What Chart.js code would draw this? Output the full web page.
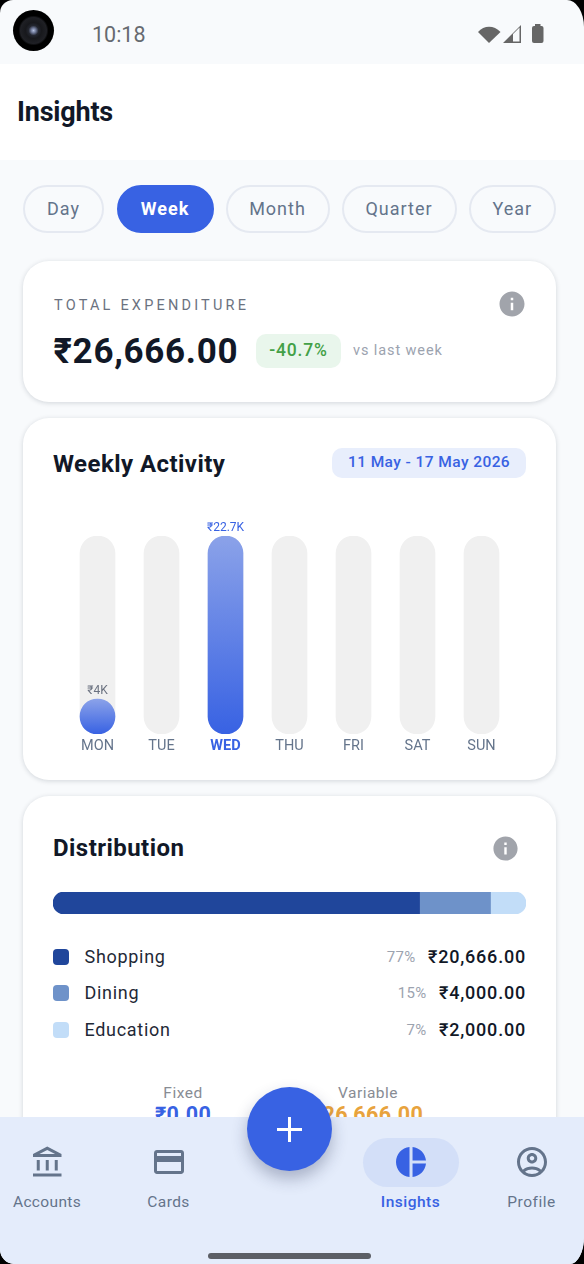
<!DOCTYPE html>
<html><head><meta charset="utf-8">
<script src="https://cdn.jsdelivr.net/npm/chart.js@4"></script>
<style>
html,body{margin:0;padding:0;background:#000;width:584px;height:1264px;overflow:hidden}
#p{position:relative;width:584px;height:1264px;background:#F8FAFC;border-radius:13px 17px 14px 14px / 13px 27px 27px 15px;overflow:hidden;font-family:Roboto,sans-serif;color:#111827}
.a{position:absolute;white-space:nowrap;line-height:1}
.cy{transform:translateY(-50%)}
.cc{transform:translate(-50%,-50%)}
.ry{transform:translateY(-50%)}
.card{position:absolute;left:23px;width:533px;background:#fff;border-radius:26px;box-shadow:0 1px 5px rgba(15,23,42,.16);}
.pill{position:absolute;top:184.5px;height:48px;box-sizing:border-box;border:2px solid #E5E9F1;border-radius:24px;display:flex;align-items:center;justify-content:center;font-size:18px;letter-spacing:1px;color:#64748B}
.pill.on{background:#3862E3;border-color:#3862E3;color:#fff;font-weight:700}
svg{position:absolute;display:block}
canvas{position:absolute}
</style></head><body>
<div id="p">
<div class="a" style="left:0;top:64px;width:584px;height:96px;background:#fff"></div>
<div class="a" style="left:12.5px;top:9.5px;width:41px;height:41px;border-radius:50%;background:radial-gradient(circle at 50% 50%,#b4c0de 0,#6b7594 2.5px,#23262f 5px,#17181c 8px,#1f2025 13px,#000 15px)"></div>
<div class="a cy" style="left:92px;top:35px;font-size:21.5px;color:#666A70">10:18</div>
<svg style="left:476px;top:21px" width="74" height="26" viewBox="0 0 74 26"><path d="M2 11C8 4 18 4 24.5 11L13 22z" fill="#666"/><path d="M27 22 45 4V22zM37 20.5H43.5V6.5L37 13z" fill="#666" fill-rule="evenodd"/><rect x="56" y="5" width="11.5" height="17" rx="2" fill="#666"/><rect x="59" y="3" width="5.5" height="3" fill="#666"/></svg>
<div class="a cy" style="left:17px;top:112px;font-size:27px;font-weight:700;color:#111827;letter-spacing:-.2px">Insights</div>

<div id="pills"></div>

<div class="card" style="top:261px;height:141px"></div>
<div class="a cy" style="left:54px;top:306px;font-size:14.5px;letter-spacing:3.2px;color:#6B7280">TOTAL EXPENDITURE</div>
<svg style="left:497px;top:289px" width="30" height="30" viewBox="0 0 24 24"><path fill="#A1A4AB" d="M12 2C6.48 2 2 6.48 2 12s4.48 10 10 10 10-4.48 10-10S17.52 2 12 2zm1 15h-2v-6h2v6zm0-8h-2V7h2v2z"/></svg>
<div class="a cy" style="left:53.5px;top:351px;font-size:35px;font-weight:700;letter-spacing:.7px;color:#111827">₹26,666.00</div>
<div class="a" style="left:256px;top:334px;width:85px;height:34px;border-radius:10px;background:#E9F6EC;display:flex;align-items:center;justify-content:center;font-size:17.5px;font-weight:500;letter-spacing:.8px;color:#43A047">-40.7%</div>
<div class="a cy" style="left:353px;top:351px;font-size:14.5px;letter-spacing:.9px;color:#9CA3AF">vs last week</div>

<div class="card" style="top:418px;height:362px"></div>
<div class="a cy" style="left:53px;top:464px;font-size:24px;font-weight:700;letter-spacing:.45px">Weekly Activity</div>
<div class="a" style="left:332px;top:448px;width:194px;height:30px;border-radius:10px;background:#E8EEFC;display:flex;align-items:center;justify-content:center;font-size:15.5px;font-weight:500;letter-spacing:.42px;color:#3862E3">11 May - 17 May 2026</div>
<canvas id="week" style="left:23px;top:510px" width="533" height="260"></canvas>

<div class="card" style="top:796px;height:500px"></div>
<div class="a cy" style="left:53px;top:848px;font-size:24px;font-weight:700;letter-spacing:.45px">Distribution</div>
<svg style="left:491px;top:833.5px" width="29" height="29" viewBox="0 0 24 24"><path fill="#A1A4AB" d="M12 2C6.48 2 2 6.48 2 12s4.48 10 10 10 10-4.48 10-10S17.52 2 12 2zm1 15h-2v-6h2v6zm0-8h-2V7h2v2z"/></svg>
<canvas id="dist" style="left:53px;top:892px" width="473" height="22"></canvas>
<div id="legend"></div>

<div class="a cc" style="left:183px;top:1094px;font-size:15.5px;letter-spacing:.5px;color:#888C94">Fixed</div>
<div class="a cc" style="left:183px;top:1115px;font-size:21.5px;font-weight:700;letter-spacing:.3px;color:#3862E3">₹0.00</div>
<div class="a cc" style="left:368px;top:1094px;font-size:15.5px;letter-spacing:.5px;color:#888C94">Variable</div>
<div class="a cc" style="left:367px;top:1115px;font-size:21.5px;font-weight:700;letter-spacing:.3px;color:#E8A33D">₹26,666.00</div>

<div class="a" style="left:0;top:1117px;width:584px;height:147px;background:#E4ECFB"></div>
<div class="a" style="left:363px;top:1138px;width:96px;height:49px;border-radius:25px;background:#D3DFF8"></div>
<svg style="left:29.5px;top:1144.5px" width="36" height="36" viewBox="0 0 24 24"><path fill="#64748B" d="M6.5 10h-2v7h2v-7zm6 0h-2v7h2v-7zm8.5 9H2v2h19v-2zm-2.5-9h-2v7h2v-7zm-7-6.74L16.71 6H6.29l5.21-2.74m0-2.26L2 6v2h19V6l-9.5-5z"/></svg>
<svg style="left:151px;top:1144px" width="36" height="36" viewBox="0 0 24 24"><path fill="#64748B" d="M20 4H4c-1.11 0-1.99.89-1.99 2L2 18c0 1.11.89 2 2 2h16c1.11 0 2-.89 2-2V6c0-1.11-.89-2-2-2zm0 14H4v-6h16v6zm0-10H4V6h16v2z"/></svg>
<svg style="left:393px;top:1144px" width="36" height="36" viewBox="0 0 24 24"><path fill="#3862E3" d="M11 2v20c-5.07-.5-9-4.79-9-10s3.93-9.5 9-10zm2.03 0v8.99H22c-.47-4.74-4.24-8.52-8.97-8.99zm0 11.01V22c4.74-.47 8.5-4.25 8.97-8.99h-8.97z"/></svg>
<svg style="left:513.7px;top:1144px" width="36" height="36" viewBox="0 0 24 24"><path fill="#64748B" d="M12 2C6.48 2 2 6.48 2 12s4.48 10 10 10 10-4.48 10-10S17.52 2 12 2zM7.35 18.5C8.66 17.56 10.26 17 12 17s3.34.56 4.65 1.5c-1.31.94-2.91 1.5-4.65 1.5s-3.34-.56-4.65-1.5zm10.79-1.38C16.45 15.8 14.32 15 12 15s-4.45.8-6.14 2.12C4.7 15.73 4 13.95 4 12c0-4.42 3.58-8 8-8s8 3.58 8 8c0 1.95-.7 3.73-1.86 5.12zM12 6c-1.93 0-3.5 1.57-3.5 3.5S10.07 13 12 13s3.5-1.57 3.5-3.5S13.93 6 12 6zm0 5c-.83 0-1.5-.67-1.5-1.5S11.17 8 12 8s1.5.67 1.5 1.5S12.83 11 12 11z"/></svg>
<div class="a cc" style="left:47px;top:1203px;font-size:15.5px;letter-spacing:.35px;color:#64748B">Accounts</div>
<div class="a cc" style="left:168.5px;top:1203px;font-size:15.5px;letter-spacing:.4px;color:#64748B">Cards</div>
<div class="a cc" style="left:410.5px;top:1203px;font-size:15.5px;font-weight:500;letter-spacing:.5px;color:#3862E3">Insights</div>
<div class="a cc" style="left:531.5px;top:1203px;font-size:15.5px;letter-spacing:.5px;color:#64748B">Profile</div>
<div class="a" style="left:247px;top:1087px;width:85px;height:84px;border-radius:50%;background:#3862E3;box-shadow:0 8px 16px rgba(30,41,80,.3)"></div>
<svg style="left:271px;top:1111px" width="37" height="37" viewBox="0 0 37 37"><path d="M17 6h3v11h11v3H20v11h-3V20H6v-3h11z" fill="#fff"/></svg>
<div class="a" style="left:208px;top:1253px;width:163px;height:6px;border-radius:3px;background:#5C5F66"></div>
</div>
<script>
const periods = ["Day","Week","Month","Quarter","Year"];
const periodLeft = [23,116.5,225.5,341.5,468.5];
const periodWidth = [81,97,104,115,87.5];
const activePeriod = "Week";

const days = ["MON","TUE","WED","THU","FRI","SAT","SUN"];
const dayValues = [4000,0,22666,0,0,0,0];
const dayLabels = ["₹4K","","₹22.7K","","","",""];
const trackMax = 22666;
const peakDay = "WED";

const categories = ["Shopping","Dining","Education"];
const categoryValues = [20666,4000,2000];
const categoryPct = ["77%","15%","7%"];
const categoryAmount = ["₹20,666.00","₹4,000.00","₹2,000.00"];
const categoryColors = ["#20469B","#6E92C9","#C2DDF8"];
const legendY = [956.5,993,1030];

const pillsEl = document.getElementById('pills');
periods.forEach((t,i)=>{const d=document.createElement('div');d.className='pill'+(t===activePeriod?' on':'');d.style.left=periodLeft[i]+'px';d.style.width=periodWidth[i]+'px';d.textContent=t;pillsEl.appendChild(d);});

const legendEl = document.getElementById('legend');
categories.forEach((c,i)=>{
  const y=legendY[i];
  legendEl.insertAdjacentHTML('beforeend',
   `<div class="a" style="left:53px;top:${y-8}px;width:16px;height:16px;border-radius:4px;background:${categoryColors[i]}"></div>
    <div class="a cy" style="left:84.5px;top:${y}px;font-size:18px;letter-spacing:.7px;color:#1F2937">${c}</div>
    <div class="a ry" style="right:58px;top:${y}px;font-size:18px;font-weight:500;letter-spacing:.8px;color:#111827">${categoryAmount[i]}</div>
    <div class="a ry pct" data-i="${i}" style="top:${y}px;font-size:15px;letter-spacing:.3px;color:#9CA3AF">${categoryPct[i]}</div>`);
});
document.querySelectorAll('.pct').forEach(el=>{
  const i=+el.dataset.i; const amt=el.previousElementSibling;
  el.style.right=(584-amt.getBoundingClientRect().left+12.5)+'px';
});

const BLUE='#3862E3';
const barValueLabels={id:'barValueLabels',afterDatasetsDraw(chart){
  const meta=chart.getDatasetMeta(1),ctx=chart.ctx;
  ctx.save();ctx.textAlign='center';ctx.textBaseline='bottom';ctx.font='12px Roboto';
  meta.data.forEach((el,i)=>{ if(!dayLabels[i])return;
    ctx.fillStyle=days[i]===peakDay?BLUE:'#6B7280';
    ctx.fillText(dayLabels[i],el.x,el.y-2);
  });ctx.restore();
}};
function fillGradient(c){
  const a=c.chart.chartArea; if(!a)return BLUE;
  const p=c.parsed; if(!p)return BLUE;
  if(!p.y)return 'rgba(0,0,0,0)';
  const top=c.chart.scales.y.getPixelForValue(p.y),bot=c.chart.scales.y.getPixelForValue(0);
  const g=c.chart.ctx.createLinearGradient(0,top,0,Math.max(bot,top+1));
  g.addColorStop(0,'rgba(56,98,227,.55)');g.addColorStop(1,'rgba(56,98,227,1)');
  return g;
}
new Chart(document.getElementById('week'),{
  type:'bar',
  data:{labels:days,datasets:[
    {label:'Track',data:days.map(()=>trackMax),backgroundColor:'#F0F0F0',order:2,grouped:false,borderRadius:18,borderSkipped:false,barThickness:35},
    {label:'Spend',data:dayValues,backgroundColor:fillGradient,order:1,grouped:false,borderRadius:18,borderSkipped:false,barThickness:35}
  ]},
  plugins:[barValueLabels],
  options:{responsive:false,animation:false,
    layout:{padding:{left:42.5,right:42.5,top:26,bottom:0}},
    plugins:{legend:{display:false},tooltip:{enabled:false}},
    scales:{
      y:{display:false,min:0,max:trackMax},
      x:{grid:{display:false,drawTicks:false},border:{display:false},afterFit(s){s.height=36},
        ticks:{padding:4,maxRotation:0,autoSkip:false,
          color:c=>days[c.index]===peakDay?BLUE:'#64748B',
          font:c=>({family:'Roboto',size:14.5,weight:days[c.index]===peakDay?'700':'400'})}}
    }}
});
const lastIdx=categories.length-1;
new Chart(document.getElementById('dist'),{
  type:'bar',
  data:{labels:['Distribution'],datasets:categories.map((c,i)=>({
    label:c,data:[categoryValues[i]],backgroundColor:categoryColors[i],borderSkipped:false,barThickness:22,
    borderRadius:i===0?{topLeft:11,bottomLeft:11}:(i===lastIdx?{topRight:11,bottomRight:11}:0)
  }))},
  options:{indexAxis:'y',responsive:false,animation:false,
    layout:{padding:0},
    plugins:{legend:{display:false},tooltip:{enabled:false}},
    scales:{x:{display:false,stacked:true,min:0,max:categoryValues.reduce((a,b)=>a+b,0)},y:{display:false,stacked:true}}
  }
});
</script>
</body></html>
